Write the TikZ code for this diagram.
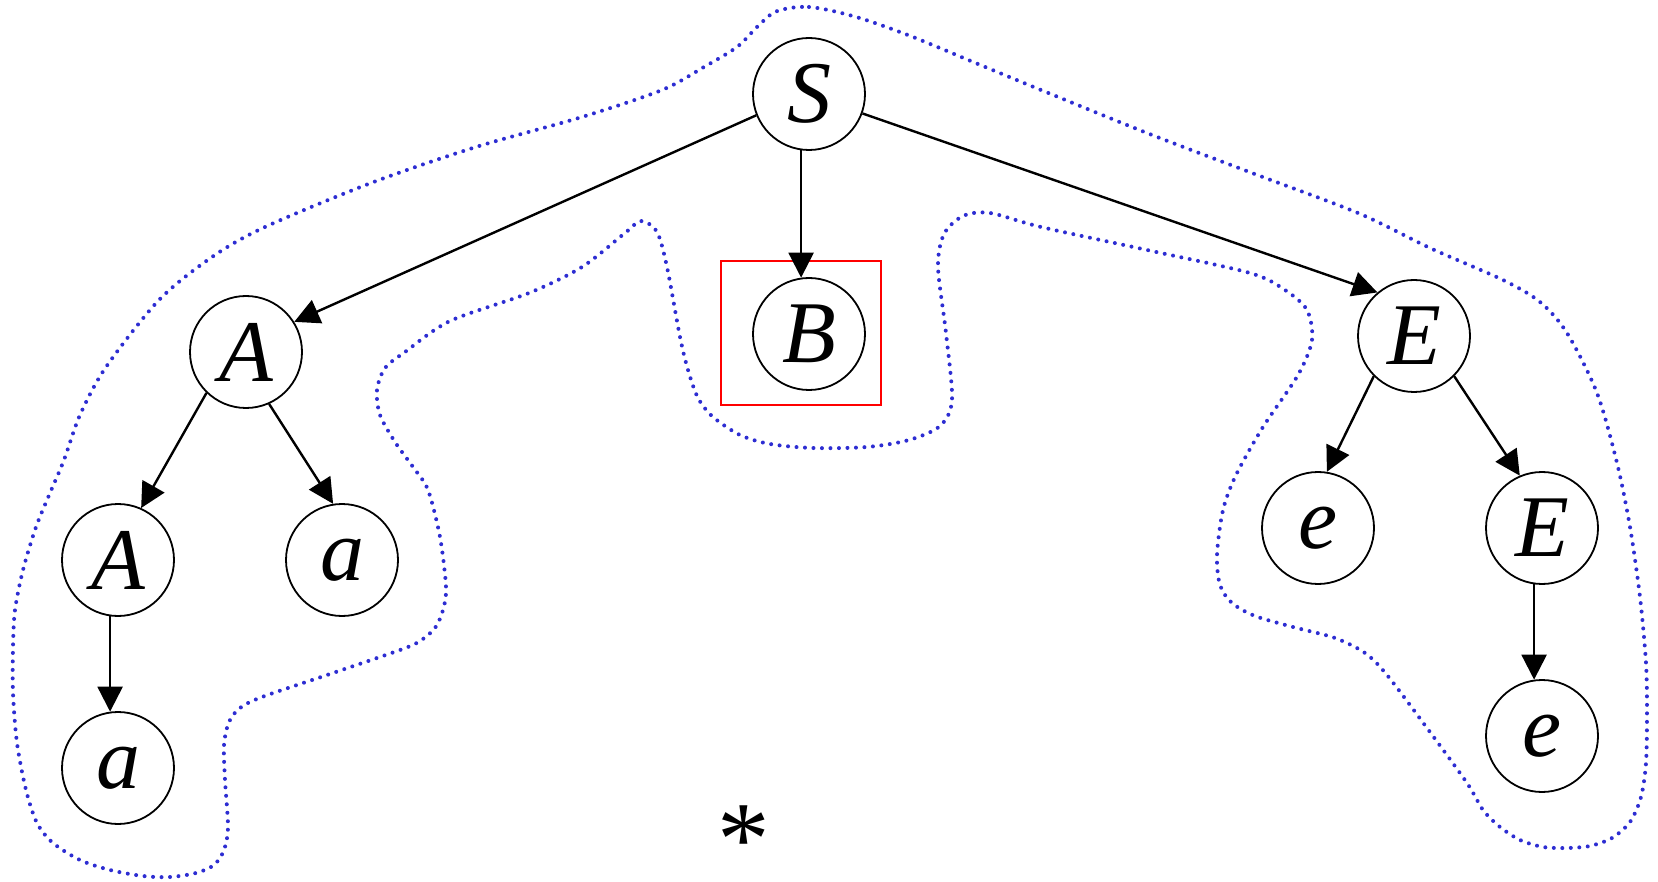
\documentclass[tikz,border=0pt]{standalone}
\usepackage{fontspec}
\setmainfont{Liberation Serif}
\newfontfamily\nodefont{Liberation Serif Italic}
\usetikzlibrary{arrows.meta}
\definecolor{dotblue}{RGB}{45,45,210}
\tikzset{
  tnode/.style={circle, draw, line width=1.8pt, minimum size=112pt, inner sep=0pt,
    font=\nodefont\fontsize{88}{88}\selectfont},
  edge/.style={line width=2.4pt, -{Triangle[length=25pt,width=25pt]}},
  bluedots/.style={draw=dotblue, line width=4pt, line cap=round, dash pattern=on 0pt off 8.5pt},
  hilite/.style={draw=red, line width=1.8pt},
  startext/.style={inner sep=0pt, anchor=base, font=\fontsize{105}{105}\selectfont}
}
\begin{document}
\begin{tikzpicture}[x=1pt,y=-1pt]
\useasboundingbox (0,0) rectangle (1658,882);
\fill[white] (0,0) rectangle (1658,882);
% nodes
\node[tnode] (S)  at (809,94)   {S};
\node[tnode] (A)  at (246,352)  {A};
\node[tnode] (B)  at (809,334)  {B};
\node[tnode] (E)  at (1414,336) {E};
\node[tnode] (A2) at (118,560)  {A};
\node[tnode] (a1) at (342,560)  {a};
\node[tnode] (a2) at (118,768)  {a};
\node[tnode] (e1) at (1318,528) {e};
\node[tnode] (E2) at (1542,528) {E};
\node[tnode] (e2) at (1542,736) {e};
\node[startext] (star) at (744,874) {*};
% highlight box around B
\draw[hilite] (721,261) rectangle (881,405);
% edges
\draw[edge] (S.202) -- (A.32);
\draw[edge] (S.262) -- (B.98);
\draw[edge] (S.340) -- (E.130);
\draw[edge] (A.226) -- (A2.66);
\draw[edge] (A.294) -- (a1.99);
\draw[edge] (A2.262) -- (a2.98);
\draw[edge] (E.225) -- (e1.81);
\draw[edge] (E.315) -- (E2.113);
\draw[edge] (E2.262) -- (e2.98);
% dotted blue outline
\draw[bluedots] plot[smooth cycle, tension=0.5] coordinates {
(790,8) (809,7) (833,11) (866,20) (913,37) (978,64) (1041,90) (1147,133) (1252,173) (1358,213) (1430,248) (1503,280) (1540,302) (1567,333) (1597,393) (1617,463) (1630,527) (1640,597) (1646,663) (1647,713) (1646,763) (1641,797) (1630,822) (1612,838) (1590,846) (1567,848) (1543,847) (1520,840) (1500,827) (1483,810) (1467,783) (1427,728) (1387,675) (1365,653) (1335,638) (1293,627) (1255,616) (1232,603) (1220,585) (1217,555) (1223,510) (1236,475) (1263,427) (1298,375) (1312,340) (1307,310) (1285,290) (1250,273) (1147,250) (1041,227) (990,213) (963,216) (944,234) (938,267) (946,333) (952,400) (940,426) (909,440) (867,447) (813,448) (770,444) (740,435) (713,417) (698,398) (688,370) (680,337) (667,267) (657,232) (641,221) (625,233) (582,267) (529,293) (450,321) (405,352) (385,368) (377,390) (380,415) (395,442) (413,467) (428,490) (440,537) (446,587) (443,610) (435,628) (420,641) (400,650) (327,675) (262,697) (240,708) (229,722) (224,745) (225,780) (228,827) (224,850) (214,865) (196,873) (170,877) (143,876) (110,870) (80,860) (53,843) (37,823) (26,790) (17,743) (13,693) (13,647) (15,610) (23,570) (36,527) (50,493) (64,460) (80,415) (106,367) (159,300) (212,257) (265,227) (371,183) (476,147) (582,117) (662,90) (704,67) (737,47) (757,27) (773,13)
};
\end{tikzpicture}
\end{document}
